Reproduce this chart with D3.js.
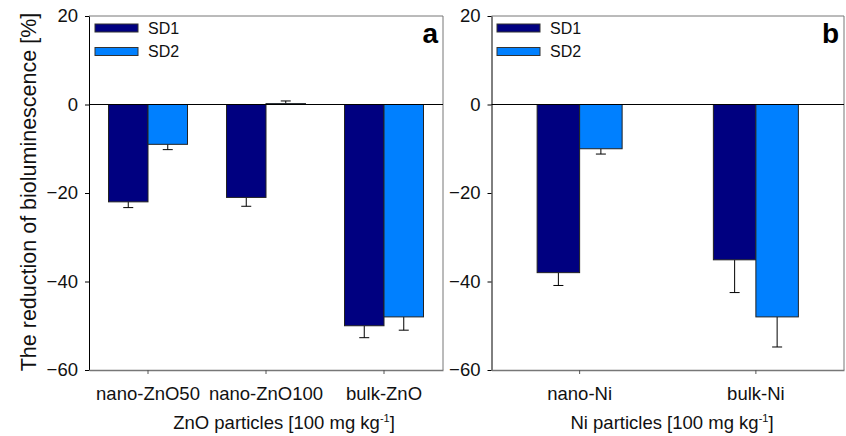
<!DOCTYPE html>
<html>
<head>
<meta charset="utf-8">
<script src="https://cdn.jsdelivr.net/npm/d3@7"></script>
<style>
  html, body { margin: 0; padding: 0; background: #fff; }
  svg { display: block; font-family: "Liberation Sans", Arial, sans-serif; }
</style>
</head>
<body>
<div id="chart"></div>
<script>
// ---- data ----
const seriesNames = ["SD1", "SD2"];
const seriesColours = ["#000080", "#0080ff"];
const yTicks = [20, 0, -20, -40, -60];

const znoCategories = ["nano-ZnO50", "nano-ZnO100", "bulk-ZnO"];
const znoSD1 = [-22, -21, -50];
const znoSD1Err = [1.3, 2.0, 2.7];
const znoSD2 = [-9, 0.2, -48];
const znoSD2Err = [1.2, 0.6, 3.0];

const niCategories = ["nano-Ni", "bulk-Ni"];
const niSD1 = [-38, -35.1];
const niSD1Err = [2.9, 7.4];
const niSD2 = [-10, -48];
const niSD2Err = [1.2, 6.8];

const panels = [
    { id: "a", categories: znoCategories, values: [znoSD1, znoSD2], errors: [znoSD1Err, znoSD2Err],
      xTitle: "ZnO particles [100 mg kg", left: 89, right: 443, groupHalf: 39.5, titleX: 284, legendX: 95 },
    { id: "b", categories: niCategories, values: [niSD1, niSD2], errors: [niSD1Err, niSD2Err],
      xTitle: "Ni particles [100 mg kg", left: 491.5, right: 844, groupHalf: 42.5, titleX: 672, legendX: 497 }
];

const svgWidth = 846, svgHeight = 436;
const plotTop = 16, plotBottom = 370;

const svg = d3.select("#chart").append("svg")
    .attr("width", svgWidth)
    .attr("height", svgHeight);

const y = d3.scaleLinear()
    .domain([-60, 20])
    .range([plotBottom, plotTop]);

// shared y-axis title
svg.append("text")
    .attr("transform", `translate(36,${(plotTop + plotBottom) / 2 - 1}) rotate(-90)`)
    .attr("text-anchor", "middle")
    .style("font-size", "21.5px")
    .attr("fill", "#111")
    .text("The reduction of bioluminescence [%]");

panels.forEach(p => {

    const g = svg.append("g").attr("class", `panel-${p.id}`);

    const x = d3.scaleBand()
        .domain(p.categories)
        .range([p.left, p.right])
        .padding(0);

    const xSeries = d3.scaleBand()
        .domain(seriesNames)
        .range([-p.groupHalf, p.groupHalf])
        .padding(0);

    // frame: top and right borders in grey
    g.append("line")
        .attr("x1", p.left).attr("x2", p.right)
        .attr("y1", plotTop).attr("y2", plotTop)
        .attr("stroke", "#777").attr("stroke-width", 1);
    g.append("line")
        .attr("x1", p.right).attr("x2", p.right)
        .attr("y1", plotTop).attr("y2", plotBottom)
        .attr("stroke", "#777").attr("stroke-width", 1);

    const rows = [];
    seriesNames.forEach((s, si) => {
        p.categories.forEach((c, ci) => {
            rows.push({ series: s, si: si, cat: c, value: p.values[si][ci], err: p.errors[si][ci] });
        });
    });

    // error bars (drawn away from zero, under the bars)
    const errG = g.append("g").attr("class", "errors");
    rows.forEach(d => {
        const cx = x(d.cat) + x.bandwidth() / 2 + xSeries(d.series) + xSeries.bandwidth() / 2;
        const tip = d.value < 0 ? d.value - d.err : d.value + d.err;
        errG.append("line")
            .attr("x1", cx).attr("x2", cx)
            .attr("y1", y(d.value)).attr("y2", y(tip))
            .attr("stroke", "#000").attr("stroke-width", 1);
        errG.append("line")
            .attr("x1", cx - 5).attr("x2", cx + 5)
            .attr("y1", y(tip)).attr("y2", y(tip))
            .attr("stroke", "#000").attr("stroke-width", 1);
    });

    g.append("g").attr("class", "bars")
        .selectAll("rect")
        .data(rows)
        .enter()
        .append("rect")
            .attr("x", d => x(d.cat) + x.bandwidth() / 2 + xSeries(d.series))
            .attr("y", d => y(Math.max(d.value, 0)))
            .attr("width", xSeries.bandwidth())
            .attr("height", d => Math.abs(y(d.value) - y(0)))
            .attr("fill", d => seriesColours[d.si])
            .attr("stroke", "#222")
            .attr("stroke-width", 1);

    // zero line
    g.append("line")
        .attr("x1", p.left).attr("x2", p.right)
        .attr("y1", y(0)).attr("y2", y(0))
        .attr("stroke", "#000").attr("stroke-width", 1);

    // y axis
    const yAxis = g.append("g")
        .attr("transform", `translate(${p.left},0)`)
        .call(d3.axisLeft(y).tickValues(yTicks).tickSize(4).tickPadding(7).tickSizeOuter(0));
    yAxis.select(".domain").attr("stroke", "#000");
    yAxis.selectAll("text").style("font-size", "18.5px").attr("fill", "#111");

    // x axis
    const xAxis = g.append("g")
        .attr("transform", `translate(0,${plotBottom})`)
        .call(d3.axisBottom(x).tickSize(4).tickPadding(13).tickSizeOuter(0));
    xAxis.select(".domain").attr("stroke", "#777").attr("stroke-width", 1.5);
    xAxis.selectAll(".tick line").attr("stroke", "#555");
    xAxis.selectAll("text").style("font-size", "18.5px").attr("fill", "#111");

    // x-axis title with superscript
    const title = g.append("text")
        .attr("x", p.titleX)
        .attr("y", 429)
        .attr("text-anchor", "middle")
        .style("font-size", "18.5px")
        .attr("fill", "#111");
    title.append("tspan").text(p.xTitle);
    title.append("tspan").attr("dy", -7).style("font-size", "11px").text("-1");
    title.append("tspan").attr("dy", 7).text("]");

    // legend
    const legend = g.append("g").attr("class", "legend");
    seriesNames.forEach((s, si) => {
        const ly = 28 + si * 23.5;
        legend.append("rect")
            .attr("x", p.legendX).attr("y", ly - 4)
            .attr("width", 43).attr("height", 8)
            .attr("fill", seriesColours[si])
            .attr("stroke", "#333").attr("stroke-width", 1);
        legend.append("text")
            .attr("x", p.legendX + 53).attr("y", ly)
            .attr("dy", "0.35em")
            .style("font-size", "16px")
            .attr("fill", "#111")
            .text(s);
    });

    // panel letter
    g.append("text")
        .attr("x", p.right - 5)
        .attr("y", 43)
        .attr("text-anchor", "end")
        .style("font-size", "28px")
        .style("font-weight", "bold")
        .attr("fill", "#000")
        .text(p.id);
});
</script>
</body>
</html>
